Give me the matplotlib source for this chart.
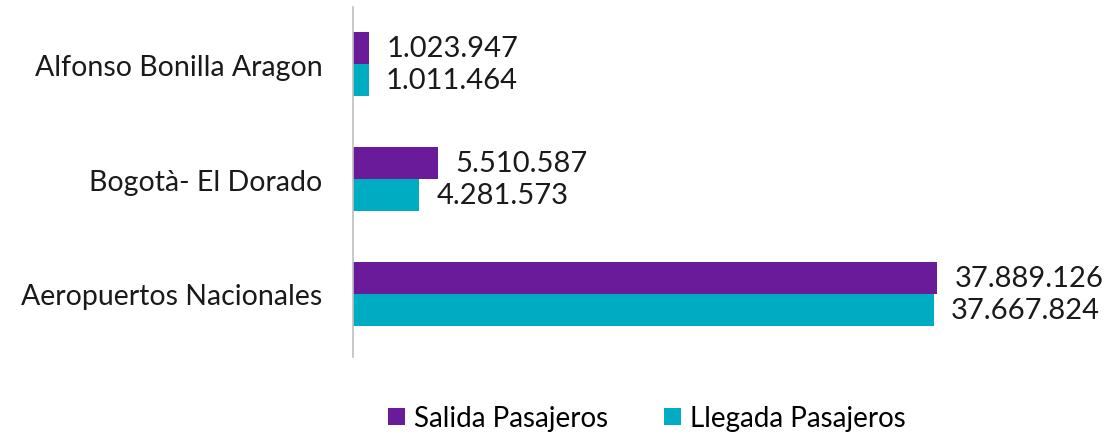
import matplotlib
matplotlib.use("Agg")
import matplotlib.pyplot as plt
import numpy as np

categories = ["Alfonso Bonilla Aragon", "Bogotà- El Dorado", "Aeropuertos Nacionales"]
salida = [1023947, 5510587, 37889126]
llegada = [1011464, 4281573, 37667824]
series_names = ["Salida Pasajeros", "Llegada Pasajeros"]
colors = ["#6A1B9A", "#00ACC1"]

plt.rcParams['font.family'] = ['Lato', 'DejaVu Sans']

def fmt(v):
    return f"{v:,}".replace(",", ".")

fig = plt.figure(figsize=(11.08, 4.39), dpi=100)
ax = fig.add_axes([0.3186, 0.1845, 0.5564, 0.7973])

y = np.arange(len(categories))
h = 0.278
b1 = ax.barh(y - h/2, salida, height=h, color=colors[0], label=series_names[0])
b2 = ax.barh(y + h/2, llegada, height=h, color=colors[1], label=series_names[1])

for bars, vals in ((b1, salida), (b2, llegada)):
    for rect, v in zip(bars, vals):
        ax.annotate(fmt(v), (rect.get_width(), rect.get_y() + rect.get_height()/2),
                    xytext=(12.5, 0), textcoords="offset points", va="center", ha="left",
                    fontsize=21, color="#1a1a1a", annotation_clip=False)

ax.set_yticks(y)
ax.set_yticklabels(categories, fontsize=20.5, color="#1a1a1a")
ax.set_ylim(2.55, -0.5)
ax.set_xlim(0, 40000000)
ax.set_xticks([])
ax.tick_params(axis='y', length=0, pad=22)
for s in ("top", "right", "bottom"):
    ax.spines[s].set_visible(False)
ax.spines["left"].set_color("#BFBFBF")
ax.spines["left"].set_linewidth(1.2)

fig.legend(handles=[b1, b2], labels=series_names, loc="center", bbox_to_anchor=(0.584, 0.045),
           ncol=2, frameon=False, fontsize=20, handlelength=0.6, handleheight=0.6,
           handletextpad=0.35, columnspacing=2.0)

fig.savefig("out.png", dpi=100)
